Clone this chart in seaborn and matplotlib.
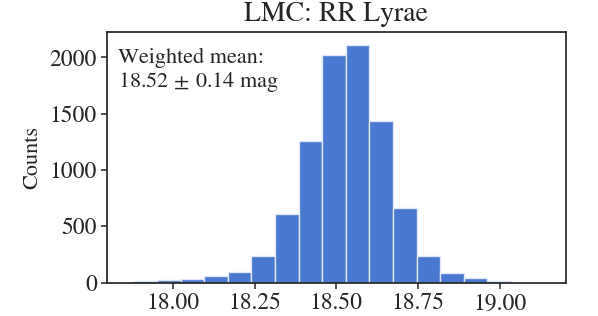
import numpy as np
import pandas as pd
import matplotlib
matplotlib.use("Agg")
import matplotlib.pyplot as plt
import seaborn as sns

# Histogram
bin_edges = [17.880, 17.952, 18.024, 18.096, 18.168, 18.240, 18.313, 18.385,
             18.457, 18.529, 18.601, 18.673, 18.745, 18.817, 18.889, 18.961, 19.033]
counts = [10, 22, 34, 55, 90, 234, 609, 1255, 2020, 2114, 1433, 665, 238, 87, 37, 16]
x_ticks = [18.00, 18.25, 18.50, 18.75, 19.00]
y_ticks = [0, 500, 1000, 1500, 2000]
title = "LMC: RR Lyrae"
annotation = "Weighted mean:\n$18.52\\,\\pm\\,0.14$ mag"

centers = [(a + b) / 2 for a, b in zip(bin_edges[:-1], bin_edges[1:])]
df = pd.DataFrame({"mag": centers, "count": counts})

sns.set_theme(style="ticks")
plt.rcParams["font.family"] = ["STIXGeneral", "DejaVu Serif"]
plt.rcParams["mathtext.fontset"] = "stix"
plt.rcParams["axes.linewidth"] = 1.25
plt.rcParams["xtick.major.size"] = 4.5
plt.rcParams["ytick.major.size"] = 4.5
plt.rcParams["xtick.major.width"] = 1.1
plt.rcParams["ytick.major.width"] = 1.1
plt.rcParams["axes.edgecolor"] = "#262626"

fig = plt.figure(figsize=(5.98, 3.16), dpi=100)
ax = fig.add_axes([0.1794, 0.106, 0.7663, 0.7937])

sns.histplot(data=df, x="mag", weights="count", bins=bin_edges, ax=ax,
             color="#4878D0", alpha=1.0, edgecolor="#dfe6f7", linewidth=1.0)

ax.set_xlim(17.80, 19.20)
ax.set_ylim(0, 2228)
ax.set_xticks(x_ticks)
ax.set_xticklabels([f"{t:.2f}" for t in x_ticks])
ax.set_yticks(y_ticks)
ax.tick_params(labelsize=17, colors="#262626", pad=3)
ax.set_xlabel("")
ax.set_ylabel("Counts", fontsize=16, labelpad=5)
ax.set_title(title, fontsize=20, pad=8)
ax.text(0.023, 0.935, annotation, transform=ax.transAxes, va="top", ha="left",
        fontsize=16, linespacing=1.12)
for s in ax.spines.values():
    s.set_visible(True)

fig.savefig("out.png", dpi=100)
